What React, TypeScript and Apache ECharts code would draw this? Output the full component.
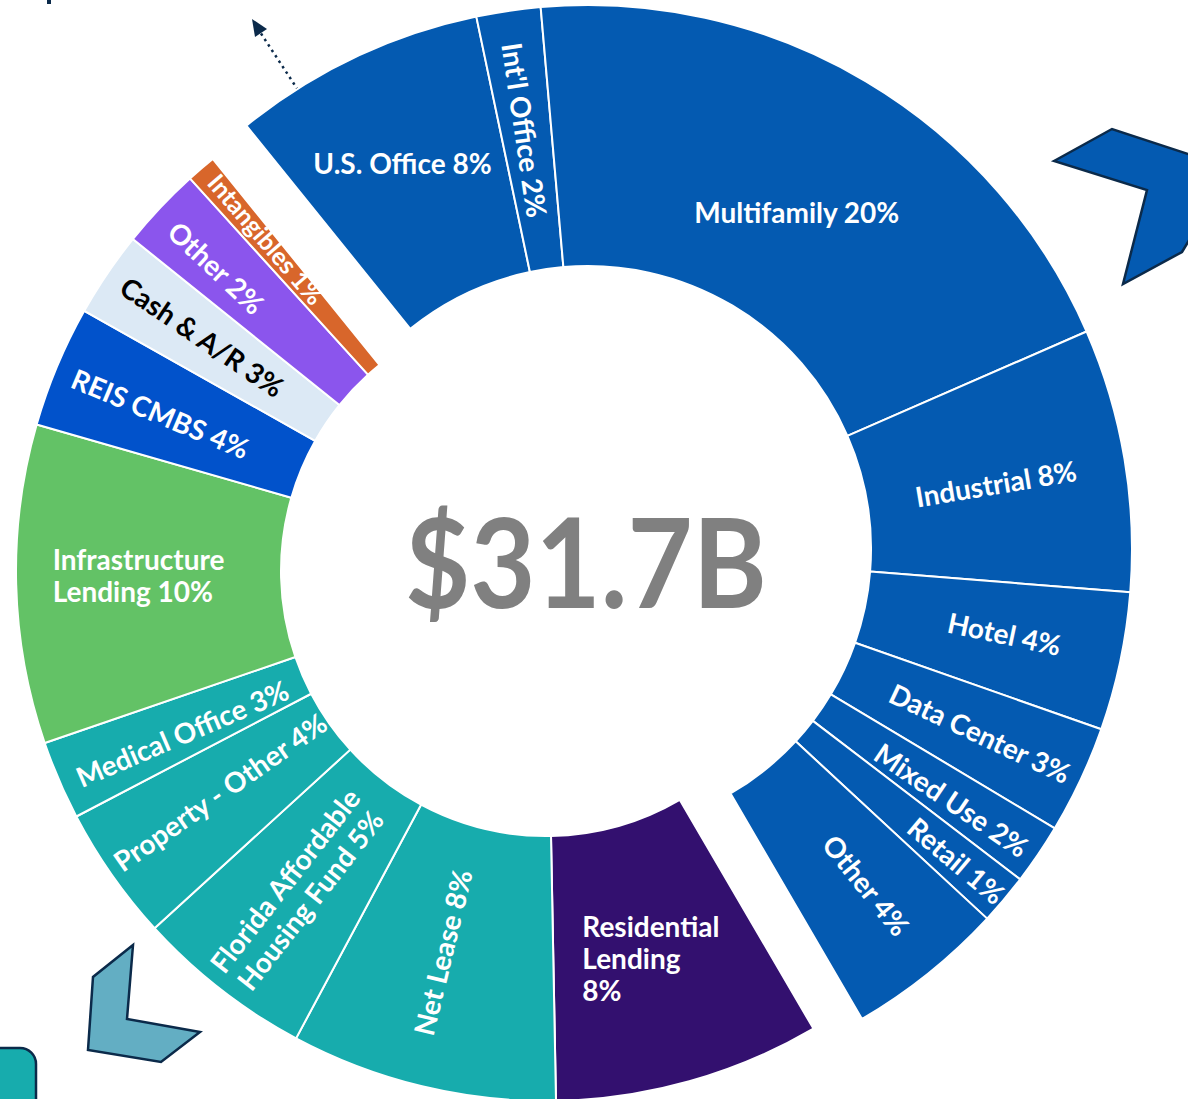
import React, { useEffect, useRef } from 'react';
import * as echarts from 'echarts';

// ---- data (shares of $31.7B) ----
const BLUE_NAMES = ['U.S. Office', "Int'l Office", 'Multifamily', 'Industrial', 'Hotel', 'Data Center', 'Mixed Use', 'Retail', 'Other'];
const BLUE_SHARES = ['8%', '2%', '20%', '8%', '4%', '3%', '2%', '1%', '4%'];
const BLUE_VALUES = [7.5, 1.9, 19.8, 7.8, 4.1, 3.2, 1.8, 1.5, 4.7];

const OTHER_NAMES = ['Residential Lending', 'Net Lease', 'Florida Affordable Housing Fund', 'Property - Other', 'Medical Office', 'Infrastructure Lending', 'REIS CMBS', 'Cash & A/R', 'Other', 'Intangibles'];
const OTHER_SHARES = ['8%', '8%', '5%', '4%', '3%', '10%', '4%', '3%', '2%', '1%'];
const OTHER_VALUES = [8.1, 8.1, 5.4, 4.1, 2.4, 9.7, 3.7, 2.6, 2.5, 0.9];

const TOTAL_LABEL = '$31.7B';

// ---- styling ----
const BLUE = '#045AB1';
const OTHER_COLORS = ['#33106F', '#17ACAD', '#17ACAD', '#17ACAD', '#17ACAD', '#63C266', '#0152CB', '#DCE9F5', '#8B55ED', '#D8662B'];
const DARK_TEXT = new Set(['Cash & A/R']);
const HORIZONTAL = new Set(['U.S. Office', 'Multifamily', 'Residential Lending', 'Infrastructure Lending']);
const WRAPS: Record<string, string[]> = {
  'Residential Lending': ['Residential', 'Lending', '%'],
  'Florida Affordable Housing Fund': ['Florida Affordable', 'Housing Fund %'],
  'Infrastructure Lending': ['Infrastructure', 'Lending %'],
};
const BLOCK_WIDTH: Record<string, number> = { 'Residential Lending': 150, 'Infrastructure Lending': 180 };
const FONT_OVERRIDE: Record<string, number> = { Intangibles: 25 };
// label nudges (screen px) from the default mid-ring anchor
const BLUE_NUDGE = [[-7, -10], [-2, -7], [-4, 21], [-3, 3], [9, -2], [15, 7], [19, 17], [50, 43], [18, 11]];
const OTHER_NUDGE = [[3, 1], [-10, -8], [-3, 3], [2, -9], [4, 4], [-3, -6], [-16, -3], [-12, -10], [-38, -29], [-19, -28]];

const FONT = 'Lato';
const FS = 28;
const LH = 32;
const NAVY = '#0B2A4A';

function labelLines(name: string, share: string): string[] {
  const w = WRAPS[name];
  if (w) return w.map((l) => l.replace('%', share));
  return [name + ' ' + share];
}

function buildItems(names: string[], shares: string[], values: number[], colors: string[]) {
  return names.map((name, i) => {
    const lines = labelLines(name, shares[i]);
    const textColor = DARK_TEXT.has(name) ? '#000' : '#fff';
    const label: any = {
      color: textColor,
      formatter: () => lines.join('\n'),
    };
    if (FONT_OVERRIDE[name]) label.fontSize = FONT_OVERRIDE[name];
    if (HORIZONTAL.has(name)) label.rotate = 0;
    const bw = BLOCK_WIDTH[name];
    if (bw) {
      label.formatter = () => lines.map((l) => '{l|' + l + '}').join('\n');
      label.rich = {
        l: { width: bw, align: 'left', color: textColor, fontFamily: FONT, fontWeight: 'bold', fontSize: FS, lineHeight: LH },
      };
    }
    return { name, value: values[i], itemStyle: { color: colors[i] }, label };
  });
}

function filler(value: number) {
  return {
    name: '',
    value,
    itemStyle: { color: 'rgba(0,0,0,0)', borderWidth: 0 },
    label: { show: false },
  };
}

const sum = (a: number[]) => a.reduce((s, v) => s + v, 0);

export default function App() {
  const ref = useRef<HTMLDivElement>(null);
  useEffect(() => {
    if (!ref.current) return;
    const chart = echarts.init(ref.current, null, { renderer: 'svg' });

    const baseLabel = {
      show: true,
      position: 'inside',
      rotate: 'radial',
      color: '#fff',
      fontFamily: FONT,
      fontWeight: 'bold',
      fontSize: FS,
      lineHeight: LH,
      overflow: 'none',
    };

    const blueData = [
      ...buildItems(BLUE_NAMES, BLUE_SHARES, BLUE_VALUES, BLUE_NAMES.map(() => BLUE)),
      filler(sum(OTHER_VALUES)),
    ];
    const otherData = [
      ...buildItems(OTHER_NAMES, OTHER_SHARES, OTHER_VALUES, OTHER_COLORS),
      filler(sum(BLUE_VALUES)),
    ];

    const nudge = (table: number[][]) => (p: any) => {
      const n = table[p.dataIndex];
      const r = p.labelRect;
      if (!n || !r) return { hideOverlap: false };
      return {
        x: r.x + r.width / 2 + n[0],
        y: r.y + r.height / 2 + n[1],
        hideOverlap: false,
      };
    };

    const common = {
      type: 'pie',
      clockwise: true,
      silent: true,
      avoidLabelOverlap: false,
      minShowLabelAngle: 0,
      emphasis: { disabled: true },
      label: baseLabel,
      labelLine: { show: false },
      itemStyle: { borderColor: '#fff', borderWidth: 2 },
    };

    chart.setOption({
      animation: false,
      series: [
        {
          ...common,
          center: [588, 549],
          radius: [283, 544],
          startAngle: 128.9,
          labelLayout: nudge(BLUE_NUDGE),
          data: blueData,
        },
        {
          ...common,
          center: [546, 571],
          radius: [265, 530],
          startAngle: 300.3,
          labelLayout: nudge(OTHER_NUDGE),
          data: otherData,
        },
      ],
      graphic: [
        {
          type: 'text',
          x: 586,
          y: 560,
          scaleX: 0.9,
          z: 10,
          style: {
            text: TOTAL_LABEL,
            fill: '#808080',
            font: 'bold 125px Lato',
            align: 'center',
            verticalAlign: 'middle',
          },
        },
        {
          type: 'line',
          shape: { x1: 298, y1: 90, x2: 260, y2: 32 },
          style: { stroke: NAVY, lineWidth: 2.5, lineDash: [2.5, 4] },
        },
        {
          type: 'polygon',
          shape: { points: [[252, 19], [255, 37], [267, 29]] },
          style: { fill: NAVY },
        },
        {
          type: 'rect',
          shape: { x: 47, y: 0, width: 4, height: 4 },
          style: { fill: NAVY },
        },
        {
          type: 'polygon',
          shape: { points: [[1054, 161], [1112, 129], [1194, 156], [1194, 232], [1182, 252], [1123, 284], [1147, 190]] },
          style: { fill: BLUE, stroke: NAVY, lineWidth: 2.5 },
        },
        {
          type: 'polygon',
          shape: { points: [[133, 945], [93, 977], [88, 1050], [161, 1062], [200, 1032], [127, 1019]] },
          style: { fill: '#63AEC3', stroke: NAVY, lineWidth: 2.5 },
        },
        {
          type: 'rect',
          shape: { x: -20, y: 1048, width: 56, height: 80, r: 16 },
          style: { fill: '#17ACAD', stroke: NAVY, lineWidth: 2.5 },
        },
      ],
    });

    return () => chart.dispose();
  }, []);

  return (
    <div
      ref={ref}
      style={{ position: 'fixed', left: 0, top: 0, width: 1188, height: 1099, background: '#fff' }}
    />
  );
}
